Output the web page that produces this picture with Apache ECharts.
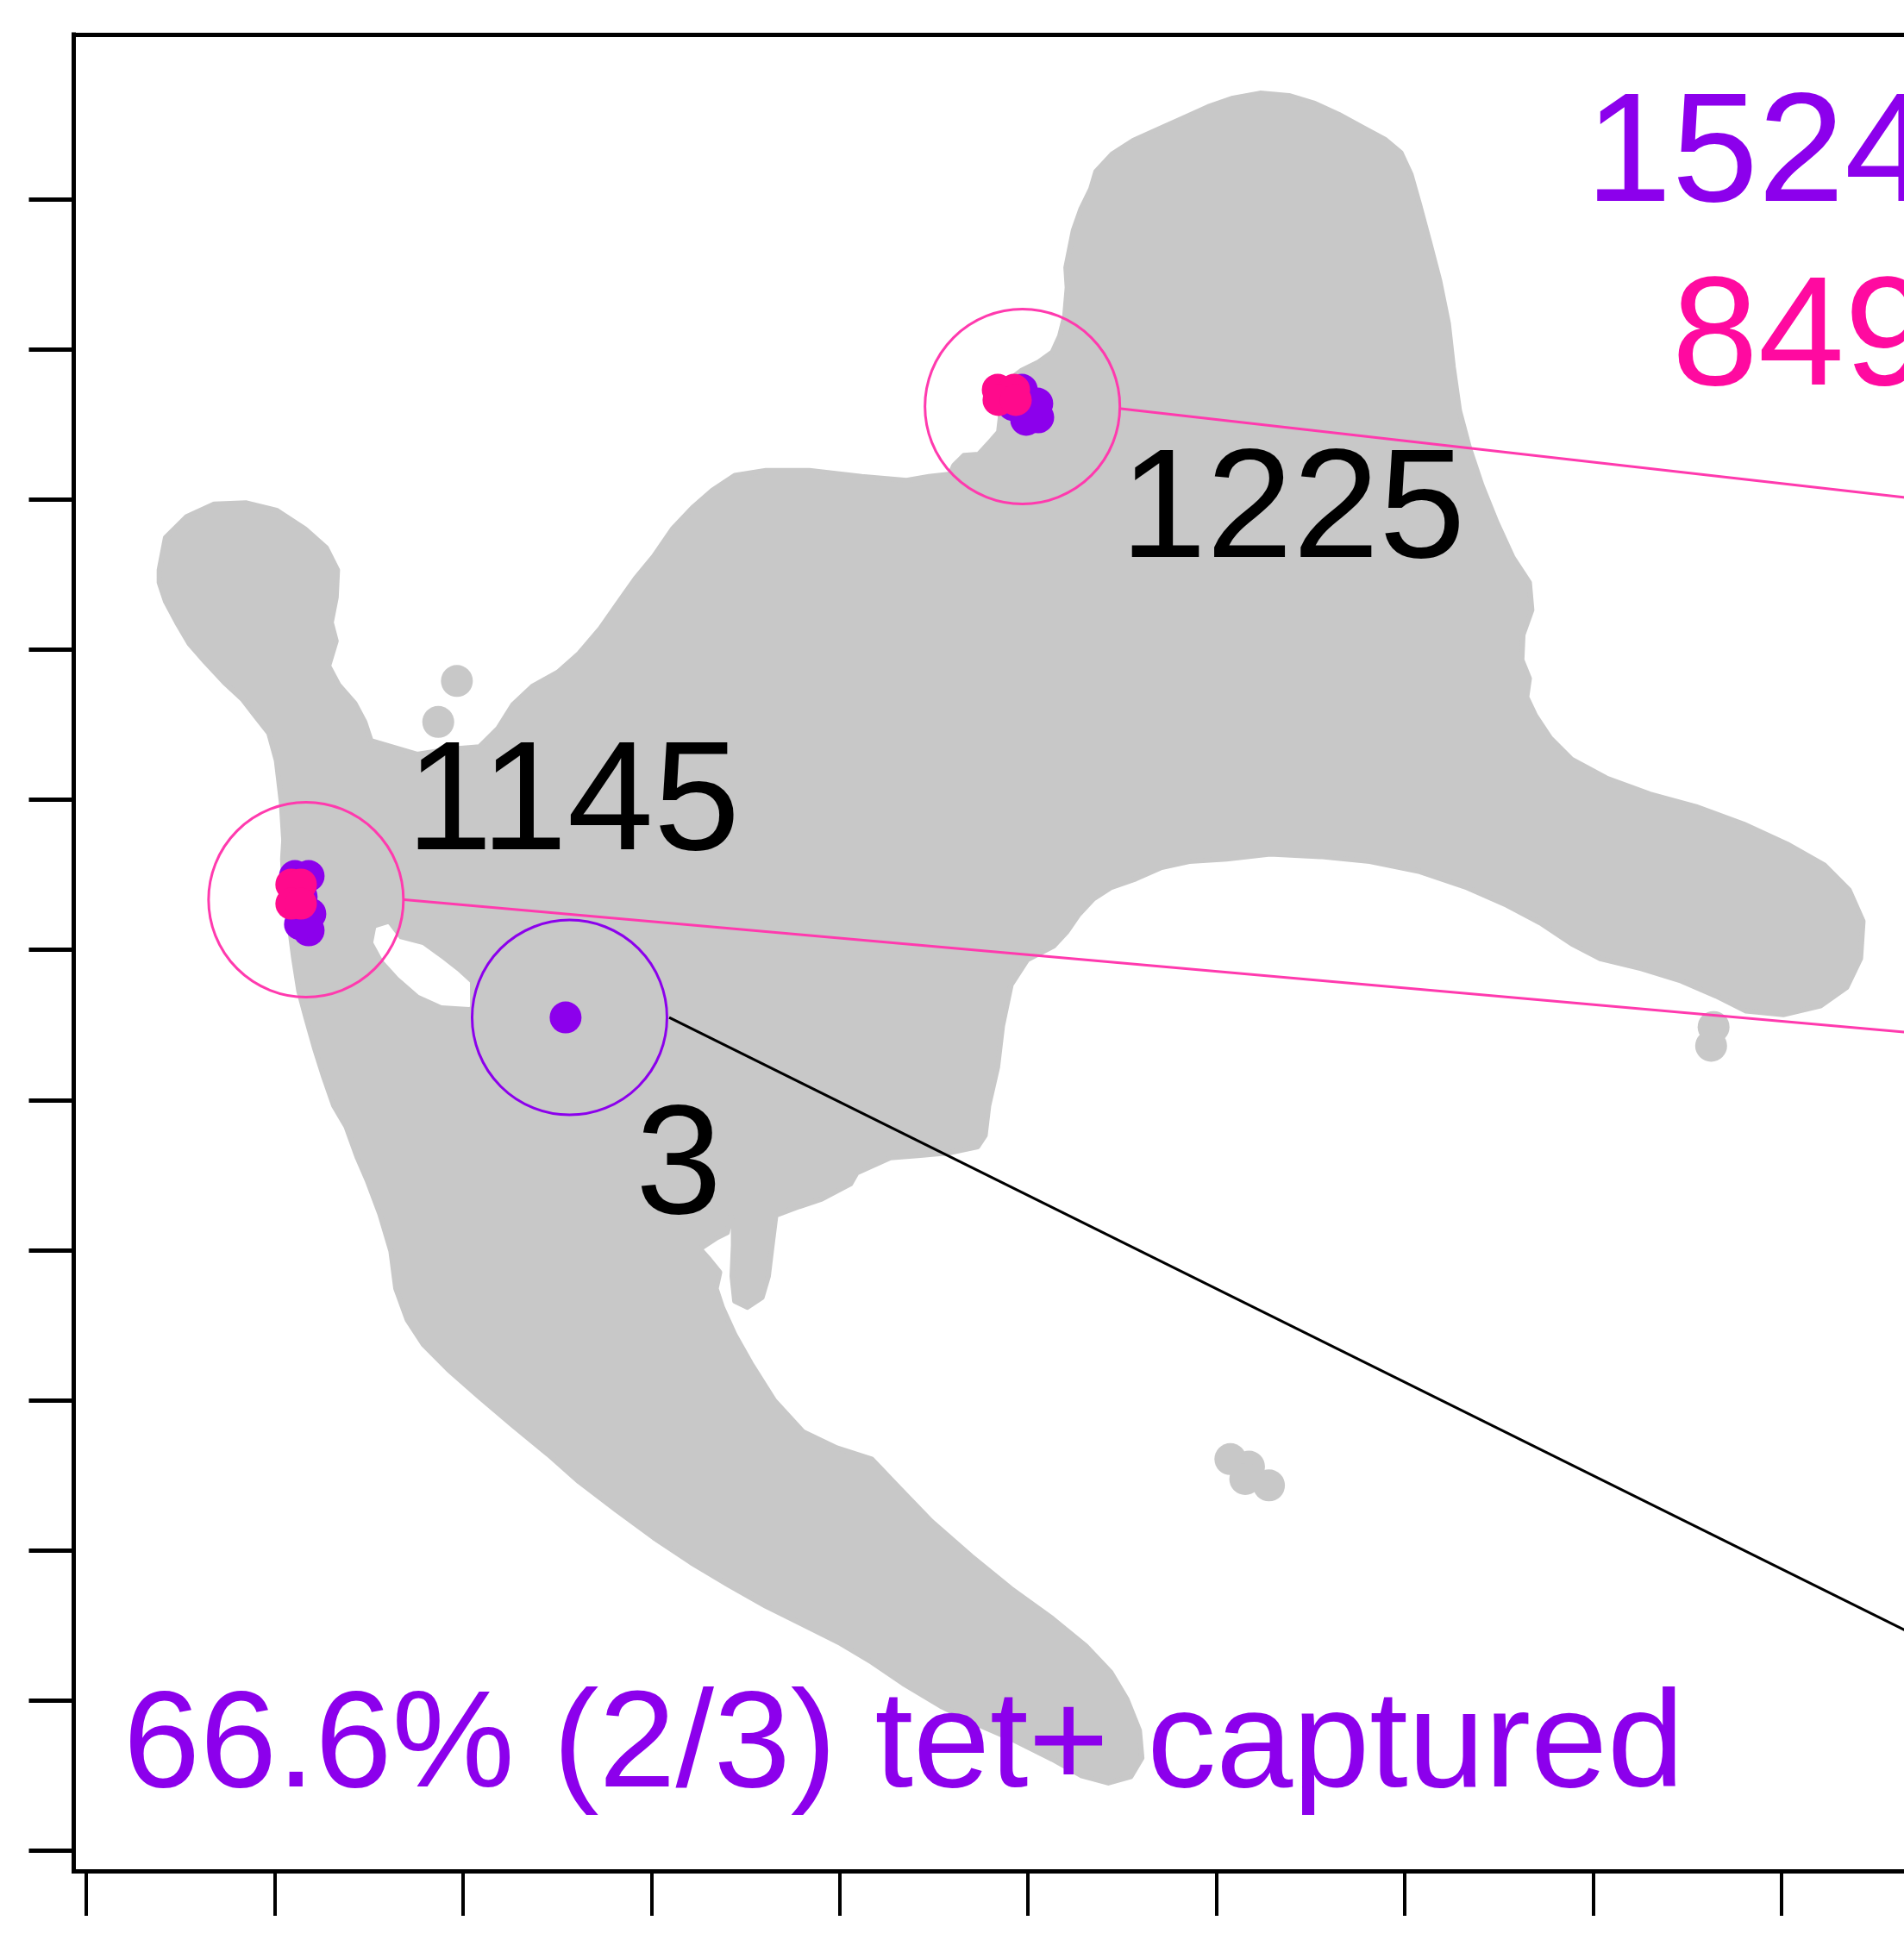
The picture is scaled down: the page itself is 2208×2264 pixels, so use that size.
<!DOCTYPE html>
<html>
<head>
<meta charset="utf-8">
<title>UMAP tet+ capture</title>
<script src="https://cdn.jsdelivr.net/npm/echarts@6.0.0/dist/echarts.min.js"></script>
<style>
  html, body { margin: 0; padding: 0; background: #ffffff; overflow: hidden; }
  #chart { width: 2400px; height: 2264px; }
</style>
</head>
<body>
<div id="chart"></div>
<script>
// ---- embedding space (UMAP units) ----
const xTicks = [0, 1, 2, 3, 4, 5, 6, 7, 8, 9];
const yTicks = [0, 1, 2, 3, 4, 5, 6, 7, 8, 9, 10, 11];
const xRange = [-0.066, 10.0];
const yRange = [-0.135, 12.097];

// outline of the grey background population (all cells)
const cloudOutline = [
  [0.388,8.530],[0.421,8.745],[0.534,8.886],[0.679,8.969],[0.851,8.977],[1.010,8.928],[1.162,8.803],[1.274,8.679],
  [1.334,8.530],[1.327,8.347],[1.301,8.181],[1.327,8.057],[1.287,7.891],[1.340,7.766],[1.426,7.642],[1.479,7.518],
  [1.512,7.393],[1.625,7.352],[1.757,7.302],[1.922,7.335],[2.087,7.352],[2.187,7.476],[2.266,7.634],[2.372,7.758],
  [2.504,7.849],[2.616,7.974],[2.729,8.140],[2.821,8.306],[2.914,8.471],[3.013,8.621],[3.112,8.803],[3.218,8.944],
  [3.324,9.060],[3.443,9.160],[3.608,9.193],[3.839,9.193],[4.117,9.152],[4.355,9.127],[4.474,9.152],[4.586,9.168],
  [4.606,9.226],[4.659,9.293],[4.738,9.301],[4.798,9.384],[4.844,9.450],[4.857,9.591],[4.884,9.782],[4.963,9.857],
  [5.056,9.915],[5.129,9.981],[5.168,10.089],[5.195,10.222],[5.208,10.412],[5.201,10.545],[5.221,10.669],[5.241,10.794],
  [5.281,10.935],[5.333,11.068],[5.360,11.184],[5.446,11.300],[5.558,11.391],[5.690,11.466],[5.823,11.540],[5.955,11.615],
  [6.087,11.673],[6.232,11.706],[6.385,11.690],[6.517,11.640],[6.649,11.565],[6.781,11.474],[6.894,11.399],[6.980,11.308],
  [7.032,11.167],[7.079,10.960],[7.132,10.711],[7.184,10.462],[7.231,10.172],[7.257,9.882],[7.290,9.591],[7.343,9.342],
  [7.409,9.094],[7.489,8.845],[7.574,8.613],[7.661,8.447],[7.674,8.264],[7.627,8.098],[7.621,7.932],[7.661,7.808],
  [7.647,7.684],[7.694,7.559],[7.773,7.410],[7.885,7.269],[8.070,7.144],[8.302,7.037],[8.546,6.954],[8.798,6.838],
  [9.029,6.705],[9.227,6.564],[9.359,6.398],[9.432,6.191],[9.419,5.942],[9.346,5.751],[9.207,5.627],[9.009,5.569],
  [8.811,5.593],[8.652,5.693],[8.467,5.793],[8.255,5.875],[8.037,5.942],[7.885,6.041],[7.727,6.174],[7.541,6.298],
  [7.330,6.415],[7.079,6.522],[6.814,6.589],[6.550,6.622],[6.285,6.638],[6.054,6.605],[5.856,6.589],[5.704,6.547],
  [5.571,6.473],[5.439,6.415],[5.347,6.340],[5.267,6.232],[5.208,6.124],[5.135,6.025],[4.996,5.934],[4.910,5.768],
  [4.864,5.494],[4.838,5.220],[4.791,4.963],[4.772,4.764],[4.732,4.689],[4.580,4.648],[4.428,4.631],[4.269,4.615],
  [4.091,4.515],[4.057,4.441],[3.905,4.341],[3.786,4.291],[3.661,4.233],[3.641,4.034],[3.621,3.827],[3.588,3.686],
  [3.509,3.620],[3.443,3.661],[3.429,3.827],[3.436,4.034],[3.436,4.159],[3.423,4.233],[3.403,4.117],[3.350,4.084],
  [3.258,4.009],[3.310,3.935],[3.363,3.852],[3.344,3.744],[3.377,3.620],[3.443,3.437],[3.529,3.246],[3.654,2.997],
  [3.806,2.790],[3.985,2.682],[4.170,2.608],[4.315,2.417],[4.487,2.193],[4.699,1.961],[4.910,1.745],[5.129,1.546],
  [5.307,1.364],[5.439,1.189],[5.525,1.007],[5.591,0.800],[5.604,0.617],[5.545,0.493],[5.426,0.451],[5.281,0.501],
  [5.129,0.609],[4.930,0.733],[4.732,0.841],[4.534,0.965],[4.335,1.115],[4.170,1.256],[4.005,1.380],[3.806,1.505],
  [3.608,1.629],[3.410,1.770],[3.211,1.919],[3.013,2.085],[2.815,2.268],[2.616,2.458],[2.451,2.641],[2.266,2.832],
  [2.087,3.022],[1.922,3.205],[1.790,3.371],[1.704,3.537],[1.644,3.744],[1.618,3.993],[1.559,4.242],[1.492,4.465],
  [1.440,4.615],[1.380,4.822],[1.314,4.963],[1.261,5.154],[1.215,5.336],[1.168,5.544],[1.129,5.726],[1.102,5.942],
  [1.076,6.191],[1.049,6.439],[1.043,6.605],[1.049,6.730],[1.036,6.987],[1.010,7.261],[0.970,7.443],[0.897,7.559],
  [0.831,7.667],[0.732,7.783],[0.633,7.916],[0.547,8.040],[0.481,8.181],[0.421,8.322],[0.388,8.447]
];

// empty pocket inside the cloud, between the left arm and the main body
const cloudHole = [
  [1.543,6.142],[1.602,6.165],[1.662,6.067],[1.785,6.027],[1.886,5.935],[1.968,5.855],[2.033,5.780],
  [2.033,5.625],[1.886,5.637],[1.767,5.705],[1.662,5.820],[1.579,5.935],[1.529,6.050]
];

// isolated grey cells lying off the main cloud
const strayCells = [
  [1.968,7.791],[1.869,7.518],
  [8.639,5.486],[8.626,5.361],
  [6.074,2.608],[6.173,2.558],[6.153,2.475],[6.279,2.433]
];

// tet+ cells (purple) and captured clone cells (pink)
const tetCells = [
  [4.967,9.731],[5.049,9.639],[5.054,9.547],[4.990,9.530],[4.921,9.628],
  [1.108,6.492],[1.181,6.492],[1.144,6.354],[1.190,6.240],[1.181,6.130],[1.135,6.171],
  [2.545,5.550]
];
const capturedCells = [
  [4.839,9.731],[4.926,9.731],[4.843,9.662],[4.935,9.662],
  [1.089,6.435],[1.140,6.435],[1.089,6.308],[1.140,6.308]
];

// clone rings: centre in embedding space
const ringCentres = [[4.970,9.619],[1.167,6.334],[2.566,5.550]];
const ringColours = ['#FF3AAE', '#FF3AAE', '#8C00EC'];

// leader lines from each ring towards the neighbouring panel
const leaderStarts = [[5.493,9.605],[1.689,6.334],[3.095,5.550]];
const leaderEnds = [[10.0,8.964],[10.0,5.414],[10.0,1.254]];
const leaderColours = ['#FF3AAE', '#FF3AAE', '#000000'];

// clone sizes and summary text
const cloneSizes = ['1225', '1145', '3'];
const totalCounts = ['1524', '849'];
const captureNote = '66.6% (2/3) tet+ captured';

const GREY = '#C8C8C8';
const PURPLE = '#8C00EC';
const PINK_DOT = '#FF0A8C';
const PINK_TEXT = '#FF0AA0';
const FONT = '"Liberation Sans", Arial, Helvetica, sans-serif';
const CELL_SIZE = 37;

const chart = echarts.init(document.getElementById('chart'), null, { renderer: 'canvas' });

function polygonRenderer(points, colour, edge) {
  return function (params, api) {
    return {
      type: 'polygon',
      shape: { points: points.map(p => api.coord(p)) },
      style: { fill: colour, stroke: colour, lineWidth: edge, lineJoin: 'round' }
    };
  };
}

const axisLineStyle = { color: '#000', width: 5, cap: 'square' };

const series = [
  { type: 'custom', name: 'cloud', z: 1, silent: true, data: [0],
    renderItem: polygonRenderer(cloudOutline, GREY, 6) },
  { type: 'custom', name: 'pocket', z: 2, silent: true, data: [0],
    renderItem: polygonRenderer(cloudHole, '#FFFFFF', 2) },
  { type: 'scatter', name: 'stray', z: 3, silent: true, data: strayCells,
    symbol: 'circle', symbolSize: CELL_SIZE, itemStyle: { color: GREY, opacity: 1 } }
];

ringCentres.forEach((c, i) => {
  series.push({
    type: 'line', z: 4, silent: true, symbol: 'none', clip: false,
    data: [leaderStarts[i], leaderEnds[i]],
    lineStyle: { color: leaderColours[i], width: 3 }
  });
  series.push({
    type: 'scatter', z: 4, silent: true, data: [c], symbol: 'circle', symbolSize: 226,
    itemStyle: { color: 'rgba(0,0,0,0)', borderColor: ringColours[i], borderWidth: 3, opacity: 1 }
  });
});

series.push({ type: 'scatter', name: 'tet+', z: 5, silent: true, data: tetCells,
  symbol: 'circle', symbolSize: CELL_SIZE, itemStyle: { color: PURPLE, opacity: 1 } });
series.push({ type: 'scatter', name: 'captured', z: 6, silent: true, data: capturedCells,
  symbol: 'circle', symbolSize: CELL_SIZE, itemStyle: { color: PINK_DOT, opacity: 1 } });

function textEl(text, x, y, size, colour, align) {
  return {
    type: 'text', x: x, y: y, z: 100, silent: true,
    style: {
      text: text, font: size + 'px ' + FONT, fill: colour,
      align: align, textAlign: align, verticalAlign: 'middle', textVerticalAlign: 'middle'
    }
  };
}

chart.setOption({
  animation: false,
  backgroundColor: '#ffffff',
  grid: { left: 85.5, right: 115.5, top: 40, bottom: 94, outerBoundsMode: 'none', containLabel: false },
  xAxis: [
    { type: 'value', min: xRange[0], max: xRange[1], position: 'bottom',
      axisLine: { show: true, onZero: false, lineStyle: axisLineStyle },
      axisTick: { show: true, inside: false, length: 52, customValues: xTicks, lineStyle: { color: '#000', width: 4 } },
      axisLabel: { show: false }, splitLine: { show: false } },
    { type: 'value', min: xRange[0], max: xRange[1], position: 'top',
      axisLine: { show: true, onZero: false, lineStyle: axisLineStyle },
      axisTick: { show: false }, axisLabel: { show: false }, splitLine: { show: false } }
  ],
  yAxis: [
    { type: 'value', min: yRange[0], max: yRange[1], position: 'left',
      axisLine: { show: true, onZero: false, lineStyle: axisLineStyle },
      axisTick: { show: true, inside: false, length: 52, customValues: yTicks, lineStyle: { color: '#000', width: 5 } },
      axisLabel: { show: false }, splitLine: { show: false } },
    { type: 'value', min: yRange[0], max: yRange[1], position: 'right',
      axisLine: { show: true, onZero: false, lineStyle: axisLineStyle },
      axisTick: { show: false }, axisLabel: { show: false }, splitLine: { show: false } }
  ],
  series: series,
  graphic: [
    textEl(totalCounts[0], 2239, 183.5, 180, PURPLE, 'right'),
    textEl(totalCounts[1], 2239, 396.5, 180, PINK_TEXT, 'right'),
    textEl(cloneSizes[0], 1299, 596.5, 180, '#000000', 'left'),
    textEl(cloneSizes[1], 471, 935, 180, '#000000', 'left'),
    textEl(cloneSizes[2], 737, 1357, 180, '#000000', 'left'),
    textEl(captureNote, 143, 2027.5, 160, PURPLE, 'left')
  ]
});
</script>
</body>
</html>
